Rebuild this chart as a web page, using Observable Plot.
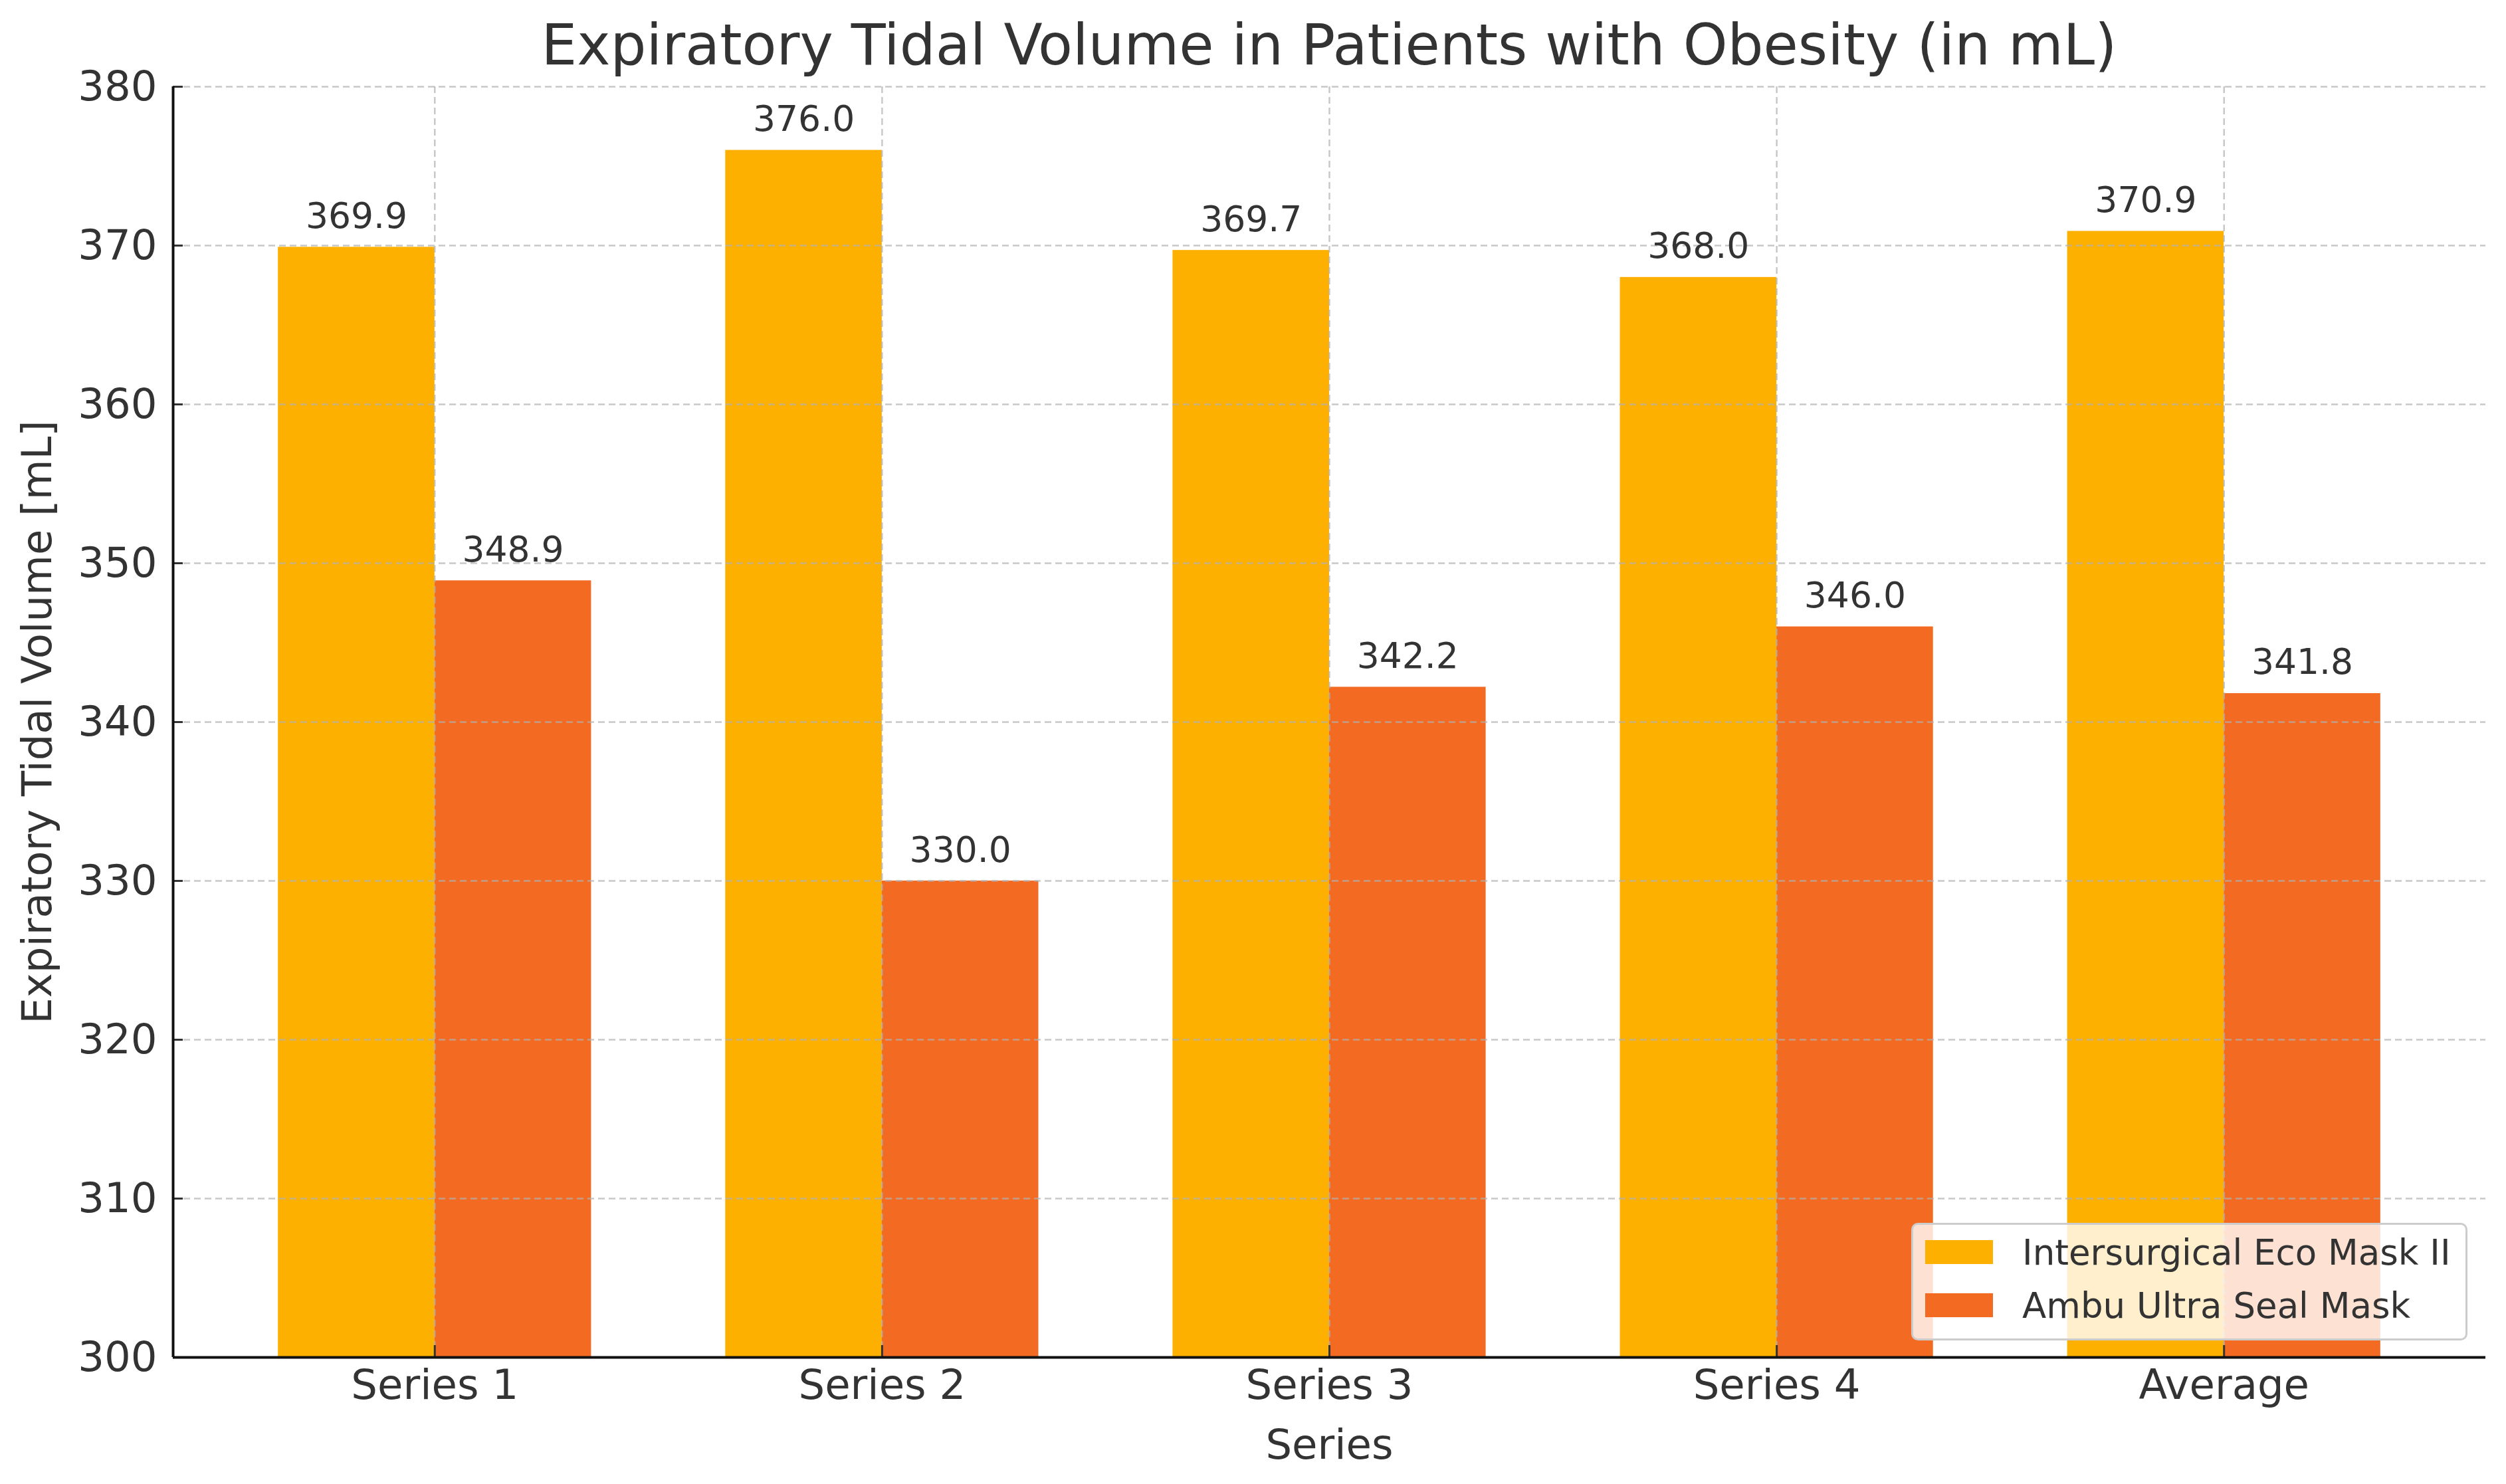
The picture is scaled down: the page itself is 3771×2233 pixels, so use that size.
<!DOCTYPE html>
<html><head><meta charset="utf-8">
<script src="https://cdn.jsdelivr.net/npm/d3@7"></script>
<script src="https://cdn.jsdelivr.net/npm/@observablehq/plot@0.6"></script>
<style>
html,body{margin:0;padding:0;background:#fff;overflow:hidden}
#wrap{position:relative;width:3771px;height:2233px;font-family:"DejaVu Sans",sans-serif;color:#333}
#title{box-sizing:border-box;height:110px;padding:25px 31px 0 260px;font-size:85px;line-height:1;text-align:center;white-space:nowrap}
#chart svg{display:block}
#legend{position:absolute;left:2876px;top:1840px;width:837px;box-sizing:border-box;padding:1px 18px 10px 18px;border:3px solid #cccccc;border-radius:10px;background:rgba(255,255,255,0.8)}
.row{display:flex;align-items:center;height:80px}
.sw{width:102px;height:36px;margin-right:44px;flex:none}
.lab{font-size:53px;line-height:1;white-space:nowrap;color:#333}
</style></head><body>
<div id="wrap"><div id="title"></div><div id="chart"></div><div id="legend"></div></div>
<script>
const chartTitle = "Expiratory Tidal Volume in Patients with Obesity (in mL)";
const xLabel = "Series";
const yLabel = "Expiratory Tidal Volume [mL]";
const categories = ["Series 1", "Series 2", "Series 3", "Series 4", "Average"];
const seriesNames = ["Intersurgical Eco Mask II", "Ambu Ultra Seal Mask"];
const intersurgical = [369.9, 376.0, 369.7, 368.0, 370.9];
const ambu = [348.9, 330.0, 342.2, 346.0, 341.8];
const yTicks = [300, 310, 320, 330, 340, 350, 360, 370, 380];
const colors = ["#FDB000", "#F36A22"];

const barW = 0.35;
const idx = categories.map((_, i) => i);
const seriesValues = [intersurgical, ambu];
const rows = categories.flatMap((c, i) => seriesNames.map((s, k) => ({
  cat: c, series: s, value: seriesValues[k][i],
  x1: i + (k - 1) * barW, x2: i + k * barW
})));
const lo = -barW, hi = categories.length - 1 + barW, pad = 0.05 * (hi - lo);
const yMin = yTicks[0], yMax = yTicks[yTicks.length - 1];
const gridStyle = {stroke: "#b0b0b0", strokeOpacity: 0.7, strokeWidth: 2.5, strokeDasharray: "10,6"};

document.getElementById("title").textContent = chartTitle;

const plot = Plot.plot({
  width: 3771, height: 2123,
  marginLeft: 260, marginRight: 31, marginTop: 20, marginBottom: 191,
  style: {fontFamily: "DejaVu Sans", fontSize: "62.5px", color: "#333", background: "#fff", overflow: "visible"},
  x: {type: "linear", domain: [lo - pad, hi + pad]},
  y: {domain: [yMin, yMax]},
  color: {domain: seriesNames, range: colors},
  marks: [
    Plot.rectY(rows, {x1: "x1", x2: "x2", y1: yMin, y2: "value", fill: "series"}),
    Plot.gridY(yTicks, gridStyle),
    Plot.gridX(idx, gridStyle),
    Plot.text(rows, {x: d => (d.x1 + d.x2) / 2, y: "value", text: d => d.value.toFixed(1), lineAnchor: "bottom", dy: -29, fontSize: 53.5, fill: "#333"}),
    Plot.axisY(yTicks, {tickSize: -15, tickPadding: 39, strokeWidth: 3, fontSize: 62.5, label: yLabel, labelAnchor: "center", labelOffset: 228, labelArrow: "none"}),
    Plot.axisX(idx, {tickSize: -18, tickPadding: 36, strokeWidth: 3, fontSize: 62.5, tickFormat: i => categories[i], label: xLabel, labelAnchor: "center", labelOffset: 152, labelArrow: "none"}),
    Plot.ruleX([lo - pad], {stroke: "#111", strokeWidth: 4}),
    Plot.ruleY([yMin], {stroke: "#111", strokeWidth: 4})
  ]
});
document.getElementById("chart").appendChild(plot);

const legend = document.getElementById("legend");
seriesNames.forEach((s, k) => {
  const row = document.createElement("div");
  row.className = "row";
  const sw = document.createElement("div");
  sw.className = "sw";
  sw.style.background = colors[k];
  const lab = document.createElement("span");
  lab.className = "lab";
  lab.textContent = s;
  row.appendChild(sw); row.appendChild(lab);
  legend.appendChild(row);
});
</script>
</body></html>
